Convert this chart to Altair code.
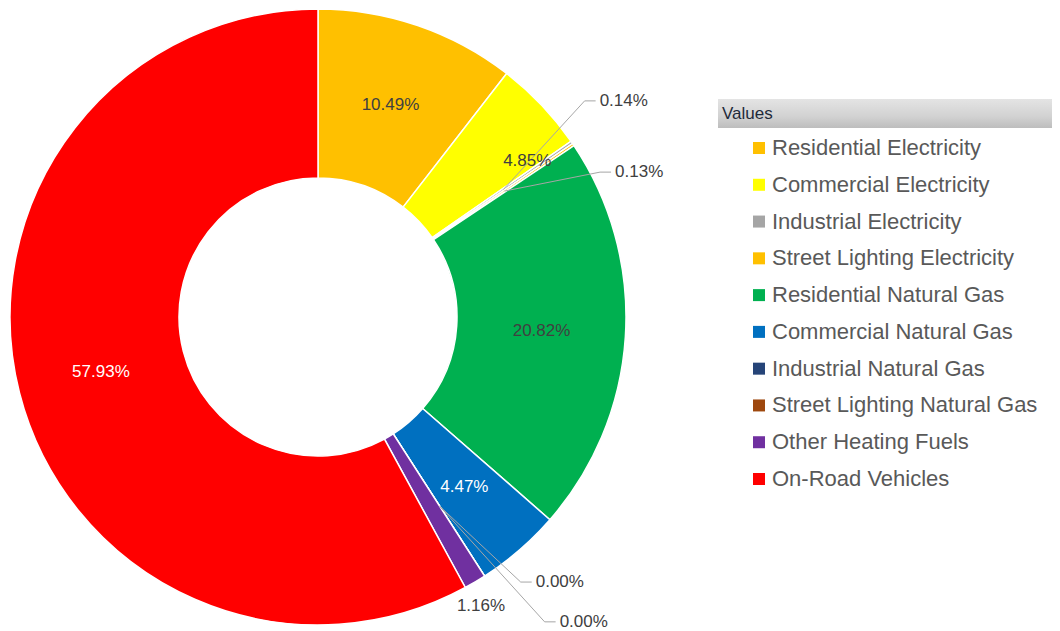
import math
import altair as alt
import pandas as pd

# ---------------- data ----------------
categories = [
    "Residential Electricity",
    "Commercial Electricity",
    "Industrial Electricity",
    "Street Lighting Electricity",
    "Residential Natural Gas",
    "Commercial Natural Gas",
    "Industrial Natural Gas",
    "Street Lighting Natural Gas",
    "Other Heating Fuels",
    "On-Road Vehicles",
]
values = [10.49, 4.85, 0.14, 0.13, 20.82, 4.47, 0.00, 0.00, 1.16, 57.93]
labels = ["10.49%", "4.85%", "0.14%", "0.13%", "20.82%", "4.47%", "0.00%", "0.00%", "1.16%", "57.93%"]
colors = ["#FFC000", "#FFFF00", "#A5A5A5", "#FFC000", "#00B050",
          "#0070C0", "#264478", "#9E480E", "#7030A0", "#FF0000"]

# ---------------- style / layout ----------------
CX, CY = 310, 309          # donut centre (chart pixels)
R_OUT, R_IN = 308, 139
R_LABEL = 224              # inside-label radius
R_LEADER = 225             # where leader lines start
LABEL_FONT = "Liberation Sans"
# manual label placement (like Excel's): category -> (radius, angle deg, kind)
label_overrides = {
    "Commercial Electricity": (261, 53.3, "inside"),
    "Industrial Electricity": (355, 52.5, "leader"),
    "Street Lighting Electricity": (330.5, 64.0, "leader"),
    "Industrial Natural Gas": (343, 140.6, "leader"),
    "Street Lighting Natural Gas": (389, 141.6, "leader"),
    "Other Heating Fuels": (332, 150.6, "inside"),
}
white_labels = {"On-Road Vehicles", "Commercial Natural Gas"}

# ---------------- derived table ----------------
total = sum(values)
rows, lead_rows = [], []
cum = 0.0
for i, (c, v, lab) in enumerate(zip(categories, values, labels)):
    start = cum / total * 2 * math.pi
    cum += v
    end = cum / total * 2 * math.pi
    mid = (start + end) / 2
    r, ang, kind = R_LABEL, mid, "inside"
    if c in label_overrides:
        r, adeg, kind = label_overrides[c]
        ang = math.radians(adeg)
    rows.append(dict(idx=i, category=c, value=v, label=lab, lr=r, ltheta=ang, kind=kind,
                     lcolor="#FFFFFF" if c in white_labels else "#404040"))
    if kind == "leader":
        ax = CX + r * math.sin(ang)
        ay = CY - r * math.cos(ang)
        sx = CX + R_LEADER * math.sin(mid)
        sy = CY - R_LEADER * math.cos(mid)
        for k, (px, py) in enumerate([(sx, sy), (ax - 15, ay), (ax - 4, ay)]):
            lead_rows.append(dict(category=c, k=k, px=px, py=py))

df = pd.DataFrame(rows)
lead = pd.DataFrame(lead_rows)

color_scale = alt.Scale(domain=categories, range=colors)

arcs = alt.Chart(df).mark_arc(
    innerRadius=R_IN, outerRadius=R_OUT, stroke="white", strokeWidth=1.5
).encode(
    theta=alt.Theta("value:Q", stack=True),
    order=alt.Order("idx:Q"),
    color=alt.Color("category:N", scale=color_scale, legend=None),
    x=alt.value(CX), y=alt.value(CY),
)

leaders = alt.Chart(lead).mark_line(color="#A6A6A6", strokeWidth=1).encode(
    x=alt.X("px:Q", scale=None, axis=None),
    y=alt.Y("py:Q", scale=None, axis=None),
    detail="category:N",
    order="k:Q",
)

inside_text = alt.Chart(df).transform_filter("datum.kind == 'inside'").mark_text(
    font=LABEL_FONT, fontSize=17, align="center", baseline="middle"
).encode(
    theta=alt.Theta("ltheta:Q", scale=None, stack=False),
    radius=alt.Radius("lr:Q", scale=None),
    text="label:N",
    color=alt.Color("lcolor:N", scale=None),
    x=alt.value(CX), y=alt.value(CY),
)

leader_text = alt.Chart(df).transform_filter("datum.kind == 'leader'").mark_text(
    font=LABEL_FONT, fontSize=17, align="left", baseline="middle", color="#404040"
).encode(
    theta=alt.Theta("ltheta:Q", scale=None, stack=False),
    radius=alt.Radius("lr:Q", scale=None),
    text="label:N",
    x=alt.value(CX), y=alt.value(CY),
)

# ---------------- legend ----------------
header_df = pd.DataFrame({"t": ["Values"]})
header_bar = alt.Chart(header_df).mark_rect(
    fill=alt.Gradient(
        gradient="linear", x1=0, x2=0, y1=0, y2=1,
        stops=[alt.GradientStop(color="#E4E4E4", offset=0),
               alt.GradientStop(color="#D2D2D2", offset=0.6),
               alt.GradientStop(color="#BDBDBD", offset=1)],
    )
).encode(x=alt.value(710), x2=alt.value(1052), y=alt.value(91), y2=alt.value(120))

header_text = alt.Chart(header_df).mark_text(
    font=LABEL_FONT, fontSize=17, align="left", baseline="middle", color="#1F2A3A"
).encode(text="t:N", x=alt.value(714), y=alt.value(106))

leg_y = alt.Y("category:N", sort=categories, axis=None,
              scale=alt.Scale(type="point", range=[140, 471], padding=0))

leg_sq = alt.Chart(df).mark_square(size=144, opacity=1).encode(
    x=alt.value(751), y=leg_y,
    color=alt.Color("category:N", scale=color_scale, legend=None),
)
leg_txt = alt.Chart(df).mark_text(
    font=LABEL_FONT, fontSize=22, align="left", baseline="middle", color="#595959"
).encode(x=alt.value(764), y=leg_y, text="category:N")

chart = alt.layer(
    arcs, leaders, inside_text, leader_text, header_bar, header_text, leg_sq, leg_txt
).resolve_scale(
    x="independent", y="independent", theta="independent",
    radius="independent", color="independent",
).properties(
    width=1044, height=623, padding=0,
    autosize=alt.AutoSizeParams(type="none"),
).configure_view(stroke="transparent")

chart.save("out.html", embed_options={"renderer": "svg", "actions": False})
